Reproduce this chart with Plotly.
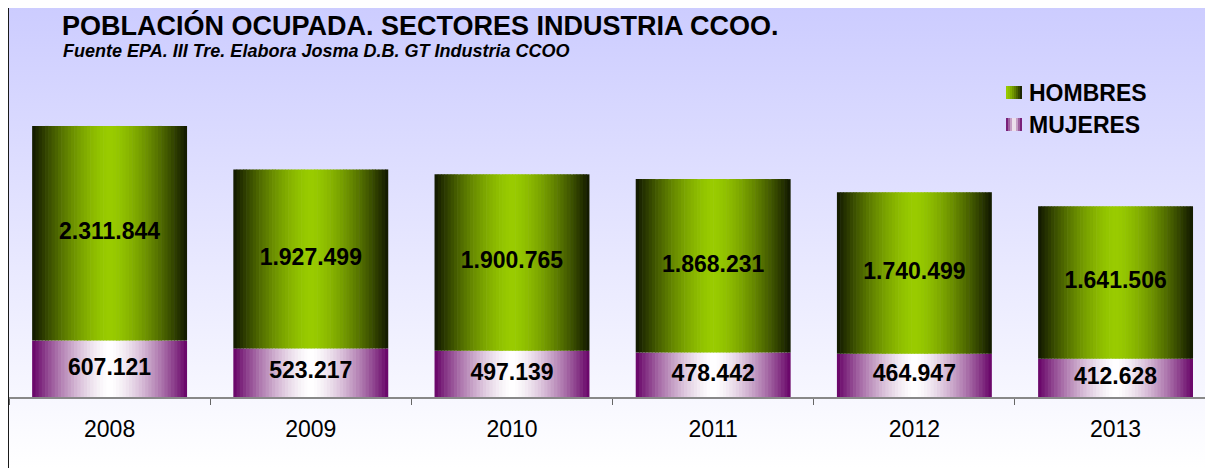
import plotly.graph_objects as go

years = ['2008', '2009', '2010', '2011', '2012', '2013']
hombres = [2311844, 1927499, 1900765, 1868231, 1740499, 1641506]
mujeres = [607121, 523217, 497139, 478442, 464947, 412628]

W, H = 1213, 468
OFF = 8  # margen por defecto del body de la pagina
FONT = 'Liberation Sans, Arial, sans-serif'

verde, oscuro = (153, 204, 0), (16, 22, 0)
blanco, morado = (255, 255, 255), (102, 0, 102)


def miles(v):
    return f'{v:,}'.replace(',', '.')


def mezcla(c1, c2, t):
    return 'rgb(%d,%d,%d)' % tuple(round(a + (b - a) * t) for a, b in zip(c1, c2))


fig = go.Figure()

# fondo degradado: lila arriba, blanco abajo (ejes x/y en pixeles de la imagen)
fig.add_trace(go.Scatter(
    x=[8, W + OFF, W + OFF, 8, 8], y=[-OFF, -OFF, H - 5, H - 5, -OFF], mode='lines', fill='toself',
    line_width=0, hoverinfo='skip', showlegend=False,
    fillgradient=dict(type='vertical', colorscale=[[0, '#ffffff'], [1, '#ccccff']],
                      start=0, stop=H - 5)))

# barras apiladas, cada una en franjas finas para imitar el degradado horizontal
N = 48
ancho = 0.77
for serie, base, c_centro, c_borde in [(mujeres, [0] * 6, blanco, morado),
                                       (hombres, mujeres, verde, oscuro)]:
    for k in range(N):
        t = abs((k + 0.5) / N - 0.5) * 2
        w = ancho / N * (1.2 if k < N - 1 else 1.0)
        fig.add_trace(go.Bar(
            x=years, y=serie, base=base, width=w, offset=-ancho / 2 + k * ancho / N,
            marker=dict(color=mezcla(c_centro, c_borde, t ** 1.5), line_width=0),
            xaxis='x2', yaxis='y2', hoverinfo='skip', showlegend=False))

etiqueta = dict(family=FONT, size=23, color='black', weight='bold')
fig.add_trace(go.Scatter(
    x=years, y=[m / 2 for m in mujeres], text=[miles(v) for v in mujeres],
    mode='text', textfont=etiqueta, xaxis='x2', yaxis='y2',
    hoverinfo='skip', showlegend=False))
fig.add_trace(go.Scatter(
    x=years, y=[m + h / 2 for m, h in zip(mujeres, hombres)], text=[miles(v) for v in hombres],
    mode='text', textfont=etiqueta, xaxis='x2', yaxis='y2',
    hoverinfo='skip', showlegend=False))

# borde del grafico (izquierda y arriba)
shapes = [dict(type='path', xref='x', yref='y',
               path=f'M 8,{-OFF} L 8,{H - 5} L {W + OFF},{H - 5}',
               line=dict(color='#1a1a1a', width=2), layer='above')]

# muestras de leyenda
for y_top, izq, der, simetrico in [(86, verde, oscuro, False), (118, blanco, morado, True)]:
    n = 8
    for k in range(n):
        p = (k + 0.5) / n
        t = abs(p - 0.5) * 2 if simetrico else p ** 1.5
        shapes.append(dict(type='rect', xref='x', yref='y',
                           x0=1006 + k * 2, x1=1006 + (k + 1) * 2,
                           y0=H - y_top - 13, y1=H - y_top,
                           fillcolor=mezcla(izq, der, t), line_width=0, layer='above'))

annotations = [
    dict(text='POBLACIÓN OCUPADA. SECTORES INDUSTRIA CCOO.', x=60, y=H - 25,
         font=dict(family=FONT, size=27, color='black', weight='bold')),
    dict(text='Fuente EPA. III Tre. Elabora Josma D.B. GT Industria CCOO', x=61, y=H - 51,
         font=dict(family=FONT, size=18, color='black', weight='bold', style='italic')),
    dict(text='HOMBRES', x=1027, y=H - 93,
         font=dict(family=FONT, size=23, color='black', weight='bold')),
    dict(text='MUJERES', x=1027, y=H - 125,
         font=dict(family=FONT, size=23, color='black', weight='bold')),
]
for a in annotations:
    a.update(xref='x', yref='y', xanchor='left', yanchor='middle', showarrow=False)

fig.update_layout(
    width=W, height=H, margin=dict(l=0, r=0, t=0, b=0),
    paper_bgcolor='white', plot_bgcolor='rgba(0,0,0,0)',
    barmode='overlay', showlegend=False,
    shapes=shapes, annotations=annotations,
    xaxis=dict(domain=[0, 1], range=[OFF, W + OFF], visible=False, fixedrange=True),
    yaxis=dict(domain=[0, 1], range=[-OFF, H - OFF], visible=False, fixedrange=True),
    xaxis2=dict(domain=[(9 - OFF) / W, 1], range=[-0.5, 5.524], anchor='y2', type='category',
                tickson='boundaries', ticks='outside', ticklen=6, tickwidth=1,
                tickcolor='#666', showline=True, linecolor='#888', linewidth=2,
                showgrid=False, ticklabelstandoff=10,
                tickfont=dict(family=FONT, size=23, color='black')),
    yaxis2=dict(domain=[(H - 397 + OFF) / H, (H - 72 + OFF) / H], range=[0, 3500000],
                anchor='x2', visible=False),
)

fig.write_html('out.html')
